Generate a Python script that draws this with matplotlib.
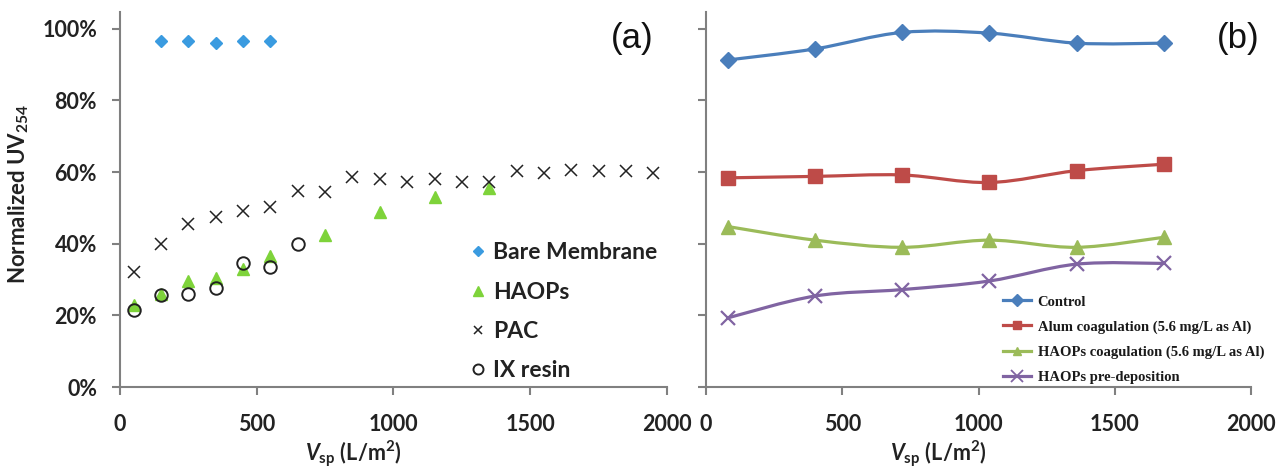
import matplotlib
matplotlib.use("Agg")
import matplotlib.pyplot as plt
from matplotlib.path import Path
from matplotlib.patches import PathPatch
from matplotlib.lines import Line2D

plt.rcParams['font.family'] = ['Lato', 'DejaVu Sans']
plt.rcParams['mathtext.fontset'] = 'custom'
plt.rcParams['mathtext.rm'] = 'Lato:bold'
plt.rcParams['mathtext.it'] = 'Lato:italic:bold'
plt.rcParams['mathtext.bf'] = 'Lato:bold'

# ---------------- Panel (a) data ----------------
bare_x = [150, 250, 350, 450, 550]
bare_y = [96.6, 96.5, 96.0, 96.5, 96.5]

haops_x = [50, 150, 250, 350, 450, 550, 750, 950, 1150, 1350]
haops_y = [22.8, 26.0, 29.6, 30.4, 32.9, 36.6, 42.5, 48.9, 53.0, 55.5]

pac_x = [50, 150, 250, 350, 450, 550, 650, 750, 850, 950,
         1050, 1150, 1250, 1350, 1450, 1550, 1650, 1750, 1850, 1950]
pac_y = [32.1, 39.9, 45.5, 47.6, 49.2, 50.3, 54.8, 54.5, 58.5, 58.2,
         57.1, 58.0, 57.3, 57.3, 60.2, 59.7, 60.6, 60.2, 60.2, 59.7]

ix_x = [50, 150, 250, 350, 450, 550, 650]
ix_y = [21.5, 25.6, 26.0, 27.7, 34.7, 33.6, 40.0]

# ---------------- Panel (b) data ----------------
b_x = [80, 400, 720, 1040, 1360, 1680]
control_y = [91.3, 94.4, 99.0, 98.8, 96.0, 96.0]
alum_y = [58.4, 58.8, 59.2, 57.1, 60.4, 62.2]
haopscoag_y = [44.8, 41.0, 39.0, 41.0, 39.0, 41.8]
predep_y = [19.3, 25.4, 27.2, 29.6, 34.3, 34.5]

left_labels = ["Bare Membrane", "HAOPs", "PAC", "IX resin"]
right_labels = ["Control", "Alum coagulation (5.6 mg/L as Al)",
                "HAOPs coagulation (5.6 mg/L as Al)", "HAOPs pre-deposition"]
yticks = [0, 20, 40, 60, 80, 100]
xticks = [0, 500, 1000, 1500, 2000]

W, H = 1287, 469
fig = plt.figure(figsize=(W / 100, H / 100), dpi=100)

def px_axes(x0, x1, ytop, ybot):
    return fig.add_axes([x0 / W, 1 - ybot / H, (x1 - x0) / W, (ybot - ytop) / H])

axa = px_axes(120, 667, 12, 387)
axb = px_axes(706, 1251, 12, 387)

spine_col = '#808080'
tick_col = '#222222'

for ax in (axa, axb):
    ax.set_xlim(0, 2000)
    ax.set_ylim(0, 104.7)
    ax.set_xticks(xticks)
    ax.set_yticks(yticks)
    for s in ('top', 'right'):
        ax.spines[s].set_visible(False)
    for s in ('left', 'bottom'):
        ax.spines[s].set_color(spine_col)
        ax.spines[s].set_linewidth(1.5)
    ax.tick_params(axis='both', direction='out', length=5.5, width=1.5,
                   color=spine_col, labelsize=15.5, labelcolor=tick_col)
    ax.tick_params(axis='y', pad=11)
    ax.tick_params(axis='x', pad=14)
    for lab in ax.get_xticklabels() + ax.get_yticklabels():
        lab.set_fontweight('bold')
    ax.set_xlabel(r"$\mathit{V}_{\mathrm{sp}}$ (L/m$^{\mathrm{2}}$)", fontsize=15.5,
                  fontweight='bold', color=tick_col)
    ax.xaxis.set_label_coords(0.426, -0.138)

axa.set_yticklabels([f"{v}%" for v in yticks])
axb.set_yticklabels([])
axa.set_xticklabels([str(v) for v in xticks])
axb.set_xticklabels([str(v) for v in xticks])

axa.set_ylabel(r"Normalized UV$_{\mathrm{254}}$", fontsize=16,
               fontweight='bold', color=tick_col)
axa.yaxis.set_label_coords(-0.163, 0.515)

# ---- panel (a) scatter ----
axa.plot(bare_x, bare_y, linestyle='none', marker='D', ms=6,
         color='#3A9BE0', mec='#3A9BE0', label=left_labels[0])
axa.plot(haops_x, haops_y, linestyle='none', marker='^', ms=8.5,
         color='#7ED33A', mec='#7ED33A', label=left_labels[1])
axa.plot(pac_x, pac_y, linestyle='none', marker='x', ms=8, mew=1.1,
         color='#222222', label=left_labels[2])
axa.plot(ix_x, ix_y, linestyle='none', marker='o', ms=9, mew=1.4,
         mfc='none', mec='#222222', label=left_labels[3])

lega = axa.legend(loc='upper left', bbox_to_anchor=(0.625, 0.41), frameon=False,
                  handlelength=0.6, handletextpad=0.35, labelspacing=0.8,
                  borderaxespad=0, markerscale=0.8,
                  prop={'family': 'Lato', 'weight': 'bold', 'size': 16.5})
for t in lega.get_texts():
    t.set_color(tick_col)

axa.text(0.975, 0.93, "(a)", transform=axa.transAxes, ha='right', va='center',
         fontsize=25, family='Liberation Sans', color='#111111')
axb.text(1.015, 0.93, "(b)", transform=axb.transAxes, ha='right', va='center',
         fontsize=25, family='Liberation Sans', color='#111111')

# ---- panel (b) smoothed lines ----
def smooth_path(xs, ys):
    pts = list(zip(xs, ys))
    verts = [pts[0]]
    codes = [Path.MOVETO]
    n = len(pts)
    for i in range(n - 1):
        p0 = pts[i - 1] if i > 0 else pts[i]
        p1 = pts[i]
        p2 = pts[i + 1]
        p3 = pts[i + 2] if i + 2 < n else pts[i + 1]
        c1 = (p1[0] + (p2[0] - p0[0]) / 6, p1[1] + (p2[1] - p0[1]) / 6)
        c2 = (p2[0] - (p3[0] - p1[0]) / 6, p2[1] - (p3[1] - p1[1]) / 6)
        verts += [c1, c2, p2]
        codes += [Path.CURVE4] * 3
    return Path(verts, codes)

series_b = [
    (control_y, '#4A7EBB', 'D', 8.5, right_labels[0]),
    (alum_y, '#BE4B48', 's', 10, right_labels[1]),
    (haopscoag_y, '#9BBB59', '^', 10, right_labels[2]),
    (predep_y, '#8064A2', 'x', 10, right_labels[3]),
]
handles = []
for ys, col, mk, ms, lab in series_b:
    axb.add_patch(PathPatch(smooth_path(b_x, ys), fill=False, edgecolor=col,
                            linewidth=2.3, capstyle='round', joinstyle='round'))
    if mk == 'x':
        axb.plot(b_x, ys, linestyle='none', marker=mk, ms=ms, mew=1.6, color=col)
        handles.append(Line2D([], [], color=col, lw=2.3, marker=mk, ms=8, mew=1.3))
    else:
        axb.plot(b_x, ys, linestyle='none', marker=mk, ms=ms, color=col, mec=col)
        handles.append(Line2D([], [], color=col, lw=2.3, marker=mk, ms=6, mec=col))

legb = axb.legend(handles, right_labels, loc='upper left',
                  bbox_to_anchor=(0.535, 0.26), frameon=False,
                  handlelength=1.9, handletextpad=0.45, labelspacing=0.8,
                  borderaxespad=0,
                  prop={'family': 'Liberation Serif', 'weight': 'bold', 'size': 10.5})
for t in legb.get_texts():
    t.set_color('#1a1a1a')

fig.savefig("out.png", dpi=100, facecolor='white')
